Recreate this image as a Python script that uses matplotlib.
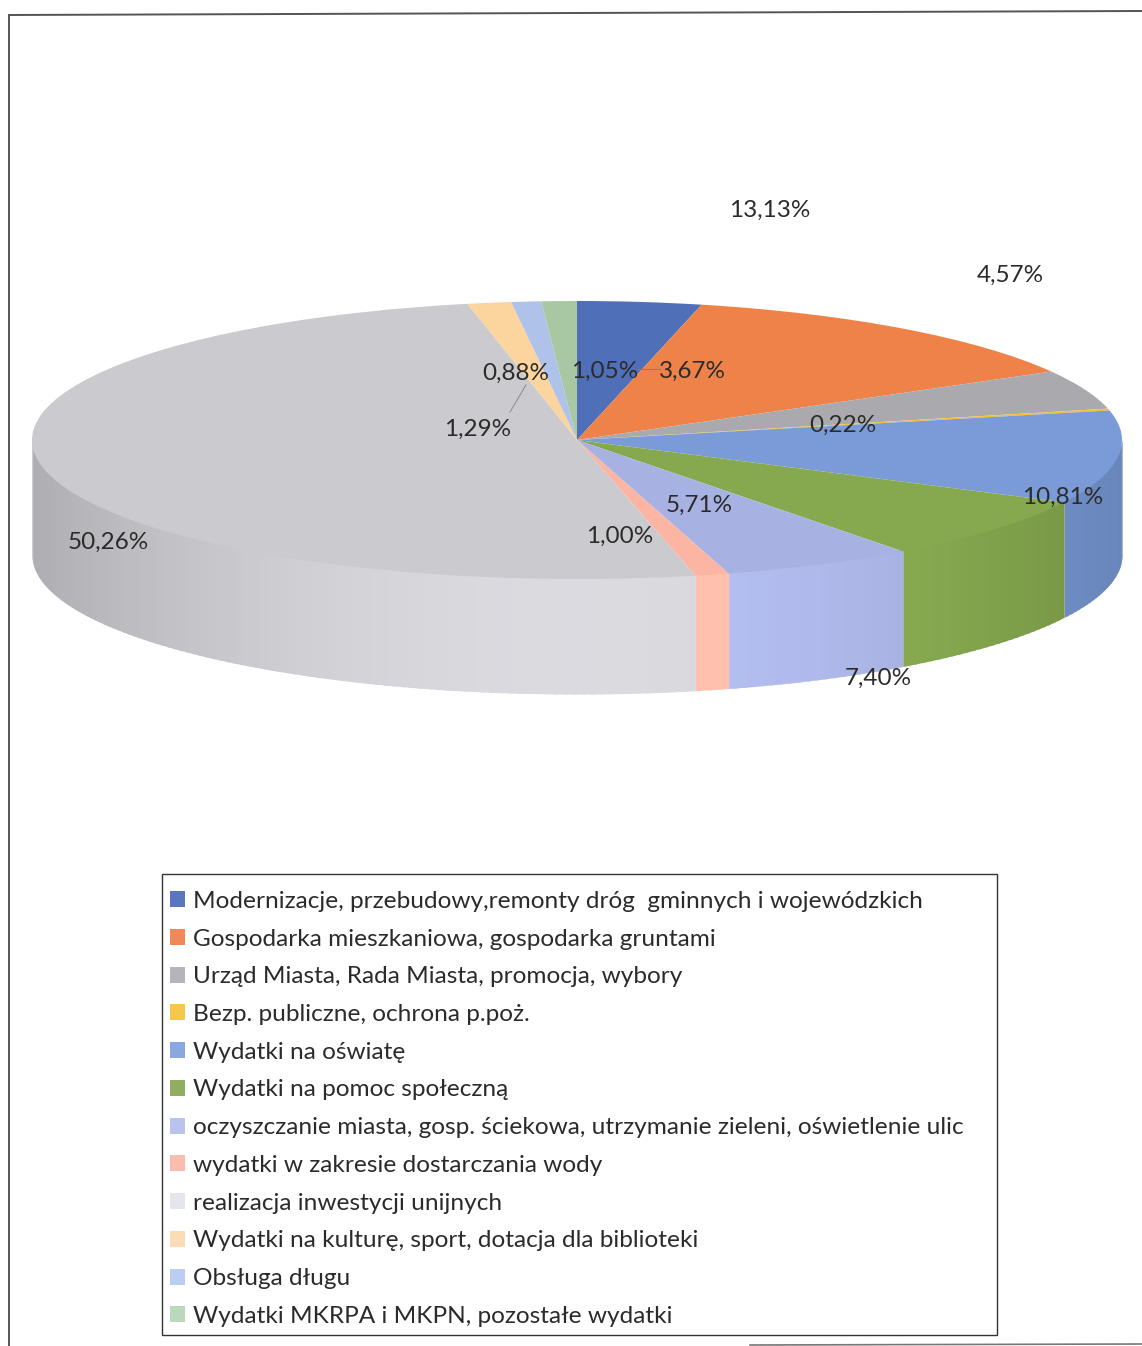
import matplotlib
matplotlib.use("Agg")
import matplotlib.pyplot as plt
import numpy as np
from matplotlib.patches import Patch, Rectangle

plt.rcParams["font.family"] = ["Lato", "DejaVu Sans"]

categories = [
    "Modernizacje, przebudowy,remonty dróg  gminnych i wojewódzkich",
    "Gospodarka mieszkaniowa, gospodarka gruntami",
    "Urząd Miasta, Rada Miasta, promocja, wybory",
    "Bezp. publiczne, ochrona p.poż.",
    "Wydatki na oświatę",
    "Wydatki na pomoc społeczną",
    "oczyszczanie miasta, gosp. ściekowa, utrzymanie zieleni, oświetlenie ulic",
    "wydatki w zakresie dostarczania wody",
    "realizacja inwestycji unijnych",
    "Wydatki na kulturę, sport, dotacja dla biblioteki",
    "Obsługa długu",
    "Wydatki MKRPA i MKPN, pozostałe wydatki",
]
values = [3.67, 13.13, 4.57, 0.22, 10.81, 7.40, 5.71, 1.00, 50.26, 1.29, 0.88, 1.05]

top_colors = ["#4f6fb8", "#ee8248", "#a9a9ae", "#f2bf35", "#7a9bd8", "#86a94f",
              "#a8b2e2", "#fbb5a2", "#cbcacf", "#fbd49e", "#afc2ea", "#a8c8a4"]
legend_colors = ["#5b76bf", "#f0885a", "#b5b4ba", "#f5c74a", "#8aa7e0", "#8fae62",
                 "#b9c3ee", "#f9bcae", "#e5e5ee", "#fbdcb5", "#bccdf3", "#bcd8bc"]

# label centres in pixels of the picture
label_x = [692, 770, 1010, 843, 1063, 878, 699, 620, 108, 478, 516, 605]
label_y = [371, 210, 275, 425, 497, 678, 505, 536, 542, 429, 373, 371]

W, H = 1142, 1346
CX, CY, RX, RY, DEPTH = 577, 440, 545, 139, 115
TEXT = "#2b2b2b"


def shade(color, x):
    f = 1.08 - 0.22 * ((x - CX) / RX) ** 2
    rgb = np.array(matplotlib.colors.to_rgb(color)) * f
    return tuple(np.clip(rgb, 0, 1))


fig = plt.figure(figsize=(W / 100, H / 100), dpi=100)

# pixel axes for the side of the cake
base = fig.add_axes([0, 0, 1, 1], zorder=0)
base.set_xlim(0, W)
base.set_ylim(H, 0)
base.axis("off")

# side walls, only the front half of the ellipse shows
edges = np.cumsum([0] + values) / sum(values) * 2 * np.pi
for a, b, col in zip(edges[:-1], edges[1:], top_colors):
    a, b = max(a, np.pi / 2), min(b, 3 * np.pi / 2)
    if b <= a:
        continue
    steps = np.linspace(a, b, max(2, int((b - a) * 60)))
    for t0, t1 in zip(steps[:-1], steps[1:]):
        # each strip runs on under the next one so no seams show
        t = np.linspace(t0, min(t1 + 0.01, b), 4)
        x = CX + RX * np.sin(t)
        y = CY - RY * np.cos(t)
        c = shade(col, x.mean())
        # start a little above the rim, the top face covers it
        base.fill_between(x, y - 3, y + DEPTH, color=c, lw=0)

# the top face, the pie squeezed to an ellipse by its axes box
top = fig.add_axes([(CX - RX) / W, 1 - (CY + RY) / H, 2 * RX / W, 2 * RY / H], zorder=1)
top.pie(values, colors=top_colors, startangle=90, counterclock=False, radius=1)
top.set_aspect("auto")
top.set_xlim(-1, 1)
top.set_ylim(-1, 1)

# texts and lines on top
over = fig.add_axes([0, 0, 1, 1], zorder=2)
over.set_xlim(0, W)
over.set_ylim(H, 0)
over.axis("off")

for v, x, y in zip(values, label_x, label_y):
    over.text(x, y, f"{v:.2f}".replace(".", ",") + "%", ha="center", va="center",
              fontsize=17.5, color=TEXT)

# leader lines
over.plot([526, 510], [385, 412], color="#8a8a8a", lw=0.7)
over.plot([638, 660], [369, 369], color="#8a7a70", lw=0.7)

# scanned page border
over.plot([9, 1142], [15, 11], color="#555555", lw=1.4)
over.plot([9, 9], [15, 1346], color="#555555", lw=1.4)
over.plot([750, 1142], [1345, 1344], color="#777777", lw=1.2)

# legend box apart from the legend, its text sits low in the box
over.add_patch(Rectangle((162, 874), 835, 461, fill=False, edgecolor="#333333", lw=1.0))

handles = [Patch(facecolor=c, edgecolor="none") for c in legend_colors]
leg = fig.legend(handles, categories, loc="upper left",
                 bbox_to_anchor=(160 / W, 1 - 881 / H),
                 borderaxespad=0, ncol=1, fontsize=17.6, frameon=False,
                 handlelength=0.64, handleheight=0.64, handletextpad=0.33,
                 borderpad=0.4, labelspacing=0.685, labelcolor=TEXT)
leg.set_zorder(5)

fig.savefig("out.png", dpi=100)
